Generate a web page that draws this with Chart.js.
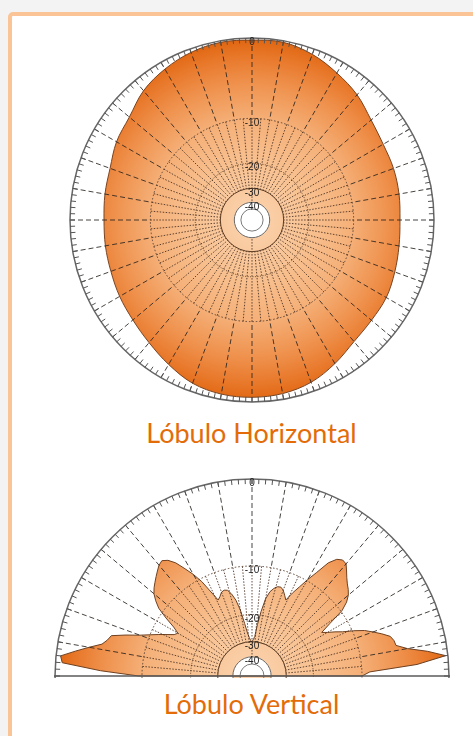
<!DOCTYPE html>
<html lang="pt">
<head>
<meta charset="utf-8">
<title>Lóbulos de radiação</title>
<script src="https://cdn.jsdelivr.net/npm/chart.js"></script>
<style>
  body { margin: 0; width: 473px; height: 736px; overflow: hidden; background: #f3f3f3; position: relative; }
  .cartao { position: absolute; left: 8px; top: 12px; width: 520px; height: 780px; background: #fff; border: 4px solid #fbc496; border-radius: 5px; }
  .titulo { position: absolute; left: 0; width: 503px; text-align: center; font-family: Lato, 'Open Sans', sans-serif; font-size: 27px; line-height: 27px; color: #e36c09; }
  #graficoH { position: absolute; left: 65px; top: 33px; }
  .janelaV { position: absolute; left: 50px; top: 474px; width: 404px; height: 204px; overflow: hidden; }
  .janelaV canvas { display: block; }
</style>
</head>
<body>
<div class="cartao"></div>
<canvas id="graficoH" width="374" height="374"></canvas>
<div class="titulo" style="top:419px">Lóbulo Horizontal</div>
<div class="janelaV"><canvas id="graficoV" width="404" height="404"></canvas></div>
<div class="titulo" style="top:690px">Lóbulo Vertical</div>

<script>
// Marcas da escala radial (dB)
const ticksDb = [0, -10, -20, -30, -40];

// Lóbulo horizontal: azimute (graus, sentido horário a partir do topo) e ganho relativo em dB
const azimutes = [0, 10, 20, 30, 40, 50, 60, 70, 80, 90, 100, 110, 120, 130, 140, 150, 160, 170,
                  180, 190, 200, 210, 220, 230, 240, 250, 260, 270, 280, 290, 300, 310, 320, 330, 340, 350];
const ganhoHorizontal = [-0.2, -0.15, -0.55, -1.2, -1.85, -2.7, -3.15, -3.25, -3.4, -3.55, -3.4, -3.1,
                         -2.75, -2.65, -2.35, -1.6, -0.9, -0.55, -0.45, -0.5, -0.8, -1.5, -2.2, -2.7,
                         -3.0, -3.3, -3.45, -3.55, -3.4, -3.2, -2.6, -2.2, -1.3, -0.75, -0.35, -0.15];

// Lóbulo vertical: ângulo a partir do zênite, passo de 2 graus
const anguloDireita = [0, 2, 4, 6, 8, 10, 12, 14, 16, 18, 20, 22, 24, 26, 28, 30, 32, 34, 36, 38, 40, 42, 44,
                       46, 48, 50, 52, 54, 56, 58, 60, 62, 64, 66, 68, 70, 72, 74, 76, 78, 80, 82, 84, 86, 88, 90];
const ganhoDireita = [-30, -29, -27.5, -23, -19, -15.8, -14.2, -13.4, -12.9, -12.8, -13.2, -14.0, -14.8,
                      -13.0, -11.5, -9.8, -8.2, -6.3, -5.35, -5.0, -5.1, -5.7, -6.3, -6.8, -7.2, -7.7, -8.5,
                      -9.8, -12.7, -15.0, -14.0, -12.7, -11.5, -9.8, -8.3, -7.3, -6.3, -5.4, -5.1, -5.0,
                      -3.8, -1.8, -0.2, -3.0, -8.8, -10];
const anguloEsquerda = [-90, -88, -86, -84, -82, -80, -78, -76, -74, -72, -70, -68, -66, -64, -62, -60, -58,
                        -56, -54, -52, -50, -48, -46, -44, -42, -40, -38, -36, -34, -32, -30, -28, -26, -24,
                        -22, -20, -18, -16, -14, -12, -10, -8, -6, -4, -2];
const ganhoEsquerda = [-9.5, -4.5, -0.6, -0.4, -1.7, -3.0, -4.3, -4.8, -5.1, -6.8, -8.6, -10.0, -11.3,
                       -12.6, -13.8, -14.3, -13.0, -11.0, -9.2, -8.2, -7.4, -6.9, -6.5, -6.1, -5.7, -5.3,
                       -5.1, -5.5, -6.3, -7.6, -8.9, -10.5, -12.8, -14.8, -14.3, -13.6, -13.4, -13.6,
                       -14.5, -16.0, -18.5, -22.5, -26, -28, -29.5];

// escala logarítmica ARRL: cada 2 dB multiplica o raio por 0,89
const paraRaio = db => Math.pow(0.89, -db / 2);

Chart.defaults.font.family = "'Liberation Sans', Arial, sans-serif";

const estiloAnel = {
  interno: { cor: '#7a7a7a', largura: 1, traco: [] },
  'anel-40': { cor: '#6a6a6a', largura: 1, traco: [] },
  'anel-30': { cor: '#5b3b22', largura: 1, traco: [] },
  'anel-20': { cor: '#5b3b22', largura: 1, traco: [1, 1.5] },
  'anel-10': { cor: '#5e4535', largura: 1, traco: [1.5, 2] },
  anel0: { cor: '#666', largura: 1.5, traco: [] }
};

function montarTicks(escala) {
  const desloc = 4.5 / escala.drawingArea;
  const lista = [{ value: 0, tipo: 'nada', texto: '' }, { value: paraRaio(-48), tipo: 'interno', texto: '' }];
  ticksDb.forEach(db => {
    lista.push({ value: paraRaio(db), tipo: 'anel' + db, texto: '' });
    lista.push({ value: paraRaio(db) - desloc, tipo: 'rotulo', texto: String(db) });
  });
  escala.ticks = lista;
}

function estiloDo(ctx) {
  return (ctx.tick && estiloAnel[ctx.tick.tipo]) || null;
}

function gradienteLobulo(context) {
  const chart = context.chart;
  const s = chart.scales.r;
  if (!s || !s.drawingArea) return '#f2a05c';
  const g = chart.ctx.createRadialGradient(s.xCenter, s.yCenter, 0, s.xCenter, s.yCenter, s.drawingArea);
  g.addColorStop(0, '#fbd4b0');
  g.addColorStop(0.3, '#f8c292');
  g.addColorStop(0.55, '#f5b078');
  g.addColorStop(0.75, '#ef924e');
  g.addColorStop(0.9, '#e8782a');
  g.addColorStop(1, '#e0650f');
  return g;
}

// linhas de ângulo, régua de graus e linha de base
const decoracaoPolar = {
  id: 'decoracaoPolar',
  afterDatasetsDraw(chart, args, o) {
    const s = chart.scales.r, c = chart.ctx;
    const raio = db => s.getDistanceFromCenterForValue(paraRaio(db));
    const rFora = s.drawingArea, r10 = raio(-10), r30 = raio(-30), r40 = raio(-40);
    const raiar = (graus, r1, r2) => {
      const t = (graus - 90) * Math.PI / 180;
      c.moveTo(s.xCenter + Math.cos(t) * r1, s.yCenter + Math.sin(t) * r1);
      c.lineTo(s.xCenter + Math.cos(t) * r2, s.yCenter + Math.sin(t) * r2);
    };
    c.save();
    c.lineWidth = 1;
    c.strokeStyle = 'rgba(40,35,30,0.85)';
    c.setLineDash([5, 3]);
    c.beginPath();
    for (let a = o.de; a <= o.ate; a += 10) {
      if (o.base && Math.abs(a) === 90) continue;
      raiar(a, rFora, r10);
    }
    c.stroke();
    c.setLineDash([1.5, 1.5]);
    c.strokeStyle = 'rgba(70,45,30,0.85)';
    c.beginPath();
    for (let a = o.de; a <= o.ate; a += 5) {
      if (o.base && Math.abs(a) === 90) continue;
      raiar(a, r10, a % 180 === 0 ? r40 : r30);
    }
    c.stroke();
    c.restore();
  },
  afterDraw(chart, args, o) {
    const s = chart.scales.r, c = chart.ctx;
    const R = s.drawingArea;
    c.save();
    c.strokeStyle = '#555';
    c.lineWidth = 1;
    c.beginPath();
    for (let a = o.de; a <= o.ate; a += 2) {
      const t = (a - 90) * Math.PI / 180;
      c.moveTo(s.xCenter + Math.cos(t) * R, s.yCenter + Math.sin(t) * R);
      c.lineTo(s.xCenter + Math.cos(t) * (R - 5), s.yCenter + Math.sin(t) * (R - 5));
    }
    c.stroke();
    if (o.base) {
      c.strokeStyle = '#5a5a5a';
      c.lineWidth = 1.5;
      c.beginPath();
      c.moveTo(s.xCenter - R - 1, s.yCenter);
      c.lineTo(s.xCenter + R + 1, s.yCenter);
      c.stroke();
    }
    c.restore();
  }
};

function opcoesEscala() {
  return {
    min: 0,
    max: 1,
    startAngle: 0,
    angleLines: { display: false },
    pointLabels: { display: false },
    grid: {
      circular: true,
      z: 1,
      color: ctx => { const e = estiloDo(ctx); return e ? e.cor : 'rgba(0,0,0,0)'; },
      lineWidth: ctx => { const e = estiloDo(ctx); return e ? e.largura : 0; }
    },
    border: {
      dash: ctx => { const e = estiloDo(ctx); return e ? e.traco : []; }
    },
    ticks: {
      z: 1,
      autoSkip: false,
      showLabelBackdrop: false,
      backdropPadding: 0,
      font: { size: 10 },
      color: '#222',
      callback: (valor, i, ticks) => ticks[i].texto
    },
    afterBuildTicks: montarTicks
  };
}

function opcoesGrafico(decoracao) {
  return {
    responsive: false,
    animation: false,
    devicePixelRatio: 1,
    events: [],
    plugins: {
      legend: { display: false },
      tooltip: { enabled: false },
      decoracaoPolar: decoracao
    },
    scales: { r: opcoesEscala() }
  };
}

// Lóbulo Horizontal
new Chart(document.getElementById('graficoH'), {
  type: 'radar',
  data: {
    labels: azimutes.map(a => a + '°'),
    datasets: [{
      label: 'Lóbulo Horizontal',
      data: ganhoHorizontal.map(paraRaio),
      borderColor: '#7a4421',
      borderWidth: 1,
      backgroundColor: gradienteLobulo,
      fill: { value: paraRaio(-40) },
      tension: 0.35,
      pointRadius: 0,
      pointHoverRadius: 0
    }]
  },
  options: opcoesGrafico({ de: 0, ate: 359, base: false }),
  plugins: [decoracaoPolar]
});

// Lóbulo Vertical: só o semicírculo superior tem dados
const rotulosAbaixo = [];
for (let a = 92; a <= 268; a += 2) rotulosAbaixo.push(a + '°');
const semDados = rotulosAbaixo.map(() => null);

new Chart(document.getElementById('graficoV'), {
  type: 'radar',
  data: {
    labels: [...anguloDireita.map(a => a + '°'), ...rotulosAbaixo, ...anguloEsquerda.map(a => a + '°')],
    datasets: [{
      label: 'Lóbulo Vertical',
      data: [...ganhoDireita.map(paraRaio), ...semDados, ...ganhoEsquerda.map(paraRaio)],
      borderColor: '#6e4020',
      borderWidth: 1,
      backgroundColor: gradienteLobulo,
      fill: { value: paraRaio(-40) },
      spanGaps: true,
      tension: 0,
      pointRadius: 0,
      pointHoverRadius: 0
    }]
  },
  options: opcoesGrafico({ de: -90, ate: 90, base: true }),
  plugins: [decoracaoPolar]
});
</script>
</body>
</html>
